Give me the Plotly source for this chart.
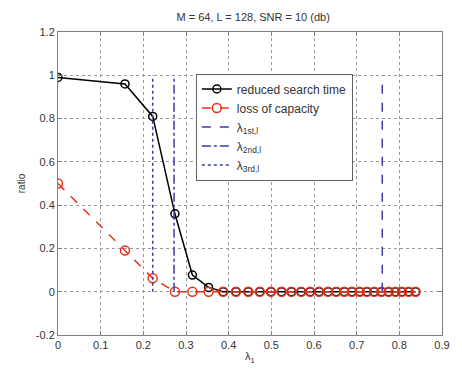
import plotly.graph_objects as go

# data
lam = [0, 0.157, 0.222, 0.274, 0.315, 0.353, 0.387, 0.417, 0.446, 0.473, 0.499,
       0.524, 0.547, 0.570, 0.591, 0.612, 0.633, 0.652, 0.671, 0.689, 0.707,
       0.724, 0.741, 0.758, 0.775, 0.791, 0.806, 0.822, 0.838]
search_time = [0.99, 0.96, 0.81, 0.36, 0.077, 0.02] + [0.0] * 23
loss_cap = [0.50, 0.19, 0.062] + [0.0] * 26
lam_1st = 0.760
lam_2nd = 0.272
lam_3rd = 0.222
vline_y = [0, 1]
xticks = [0, 0.1, 0.2, 0.3, 0.4, 0.5, 0.6, 0.7, 0.8, 0.9]
xticklabels = ["0", "0.1", "0.2", "0.3", "0.4", "0.5", "0.6", "0.7", "0.8", "0.9"]
yticks = [-0.2, 0, 0.2, 0.4, 0.6, 0.8, 1, 1.2]
yticklabels = ["-0.2", "0", "0.2", "0.4", "0.6", "0.8", "1", "1.2"]

blue = "#3b3ba6"
fig = go.Figure()
fig.add_trace(go.Scatter(x=lam, y=search_time, mode="lines+markers", name="reduced search time",
                         line=dict(color="black", width=1.5),
                         marker=dict(symbol="circle-open", size=8, color="black", line=dict(width=1.5))))
fig.add_trace(go.Scatter(x=lam, y=loss_cap, mode="lines+markers", name="loss of capacity",
                         line=dict(color="#e8321e", width=1.5, dash="dash"),
                         marker=dict(symbol="circle-open", size=9, color="#e8321e", line=dict(width=1.5))))
fig.add_trace(go.Scatter(x=[lam_1st, lam_1st], y=vline_y, mode="lines", name="λ<sub>1st,l</sub>",
                         line=dict(color=blue, width=1.5, dash="dash")))
fig.add_trace(go.Scatter(x=[lam_2nd, lam_2nd], y=vline_y, mode="lines", name="λ<sub>2nd,l</sub>",
                         line=dict(color=blue, width=1.5, dash="dashdot")))
fig.add_trace(go.Scatter(x=[lam_3rd, lam_3rd], y=vline_y, mode="lines", name="λ<sub>3rd,l</sub>",
                         line=dict(color=blue, width=1.5, dash="dot")))

axis_common = dict(showgrid=True, gridcolor="#9a9a9a", griddash="dot", gridwidth=1,
                   showline=True, linecolor="#808080", linewidth=1, mirror="ticks",
                   ticks="inside", ticklen=4, tickcolor="#808080", zeroline=False,
                   tickfont=dict(family="Liberation Sans, Arial", size=11, color="#333333"))
fig.update_layout(
    width=462, height=373,
    margin=dict(l=58, r=14, t=32, b=33),
    paper_bgcolor="white", plot_bgcolor="white",
    title=dict(text="M = 64, L = 128, SNR = 10 (db)", x=0.548, xanchor="center", y=0.955, yanchor="middle",
               font=dict(family="Liberation Sans, Arial", size=11, color="#333333")),
    xaxis=dict(range=[0, 0.9], tickvals=xticks, ticktext=xticklabels,
               title=dict(text="λ<sub>1</sub>", standoff=2, font=dict(family="Liberation Sans, Arial", size=11, color="#333333")),
               **axis_common),
    yaxis=dict(range=[-0.2, 1.2], tickvals=yticks, ticktext=yticklabels,
               title=dict(text="ratio", standoff=8, font=dict(family="Liberation Sans, Arial", size=10, color="#333333")),
               **axis_common),
    legend=dict(x=0.359, y=0.863, xanchor="left", yanchor="top",
                bgcolor="white", bordercolor="#606060", borderwidth=1,
                font=dict(family="Liberation Sans, Arial", size=12, color="#333333"),
                tracegroupgap=0, itemwidth=30),
    showlegend=True,
)
fig.write_html("out.html")
